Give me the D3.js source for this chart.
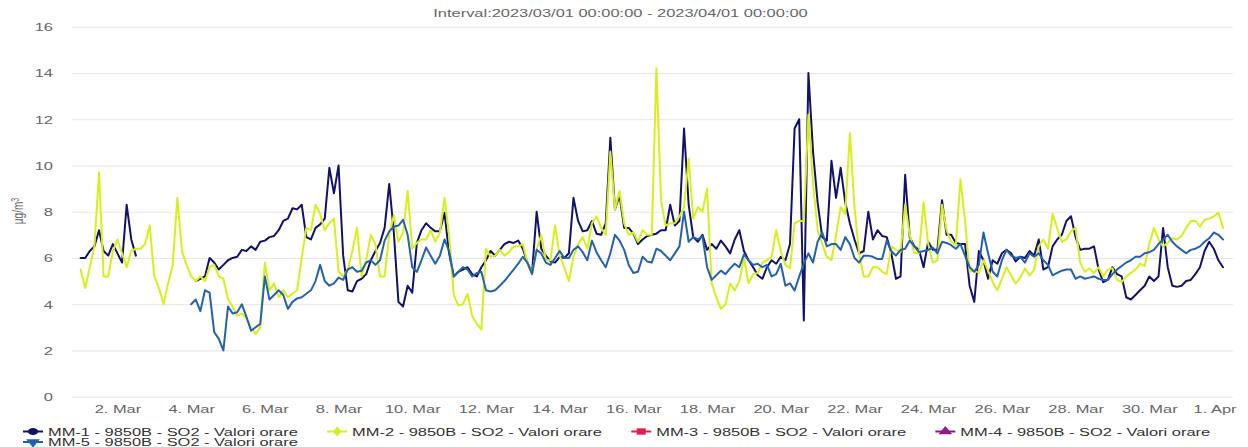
<!DOCTYPE html>
<html>
<head>
<meta charset="utf-8">
<title>MM - 9850B - SO2 - Valori orare</title>
<script src="https://cdn.jsdelivr.net/npm/d3@7"></script>
<style>
  body { margin: 0; background: #ffffff; }
  svg text { font-family: "Liberation Sans", Arial, Helvetica, sans-serif; }
</style>
</head>
<body>
<svg id="chart" width="1248" height="447"></svg>
<script>
var titleText = "Interval:2023/03/01 00:00:00 - 2023/04/01 00:00:00";
var yTitle = "\u00b5g/m";
var yTicks = [0, 2, 4, 6, 8, 10, 12, 14, 16];
var xTickDates = ["2023-03-02", "2023-03-04", "2023-03-06", "2023-03-08", "2023-03-10",
  "2023-03-12", "2023-03-14", "2023-03-16", "2023-03-18", "2023-03-20", "2023-03-22",
  "2023-03-24", "2023-03-26", "2023-03-28", "2023-03-30", "2023-04-01"];
var seriesNames = ["MM-1 - 9850B - SO2 - Valori orare", "MM-2 - 9850B - SO2 - Valori orare",
  "MM-3 - 9850B - SO2 - Valori orare", "MM-4 - 9850B - SO2 - Valori orare",
  "MM-5 - 9850B - SO2 - Valori orare"];
var startDay = "2023-03-01", endDay = "2023-04-01";
var stepHours = 3;

// one value every 3 hours from 1 Mar 00:00, one row per day
var mm1 = [
  6.0, 6.0, 6.3, 6.5, 7.2, 6.3, 6.1, 6.6,
  6.2, 5.8, 8.3, 6.8, 6.1, null, null, null,
  null, null, null, null, null, null, null, null,
  null, 5.0, 5.1, 5.2, 6.0, 5.8, 5.5, 5.7,
  5.9, 6.0, 6.05, 6.35, 6.3, 6.5, 6.35, 6.7,
  6.75, 6.9, 6.95, 7.2, 7.6, 7.7, 8.15, 8.1,
  8.3, 6.9, 6.8, 7.3, 7.45, 7.7, 9.9, 8.8,
  10.0, 6.1, 4.6, 4.55, 5.0, 5.1, 5.3, 5.9,
  6.3, 6.65, 7.3, 9.2, 7.1, 4.1, 3.9, 4.8,
  4.5, 6.65, 7.2, 7.5, 7.3, 7.15, 7.15, 7.95,
  6.2, 5.2, 5.4, 5.5, 5.6, 5.3, 5.2, 5.6,
  5.9, 6.3, 6.1, 6.35, 6.6, 6.7, 6.65, 6.75,
  6.4, 5.8, 5.35, 8.0, 6.4, 6.1, 5.85, 5.8,
  6.05, 6.0, 6.2, 8.6, 7.6, 7.15, 7.2, 7.6,
  7.05, 7.0, 7.5, 11.2, 8.1, 8.7, 7.3, 7.3,
  7.05, 6.6, 6.8, 6.95, 7.0, 7.05, 7.2, 7.2,
  8.3, 7.4, 7.6, 11.6, 8.3, 6.9, 6.7, 7.0,
  6.35, 6.6, 6.4, 6.75, 6.5, 6.2, 6.8, 7.2,
  6.3, 5.9, 5.6, 5.25, 5.1, 5.6, 5.9, 5.75,
  6.05, 5.9, 6.6, 11.6, 12.0, 3.3, 14.0, 10.6,
  8.4, 6.9, 6.75, 10.2, 8.6, 9.9, 8.4, 7.5,
  6.8, 6.2, 6.3, 8.0, 6.8, 7.2, 6.95, 6.9,
  6.2, 5.1, 5.2, 9.6, 6.9, 6.5, 6.35, 5.6,
  6.7, 6.35, 6.35, 8.5, 7.0, 7.0, 6.65, 6.6,
  6.6, 4.8, 4.1, 6.3, 5.9, 5.1, 5.9, 5.75,
  6.2, 6.35, 6.2, 5.85, 6.05, 6.0, 6.3, 6.1,
  6.8, 5.5, 5.6, 6.5, 6.8, 7.0, 7.6, 7.8,
  6.9, 6.35, 6.4, 6.4, 6.5, 5.5, 4.95, 5.05,
  5.6, 5.3, 5.2, 4.3, 4.2, 4.4, 4.6, 4.8,
  5.2, 5.0, 5.2, 7.3, 5.6, 4.8, 4.75, 4.8,
  5.0, 5.05, 5.3, 5.6, 6.3, 6.7, 6.4, 5.9,
  5.6
];
var mm2 = [
  5.5, 4.7, 5.6, 6.5, 9.7, 5.2, 5.2, 6.3,
  6.8, 6.2, 5.6, 6.3, 6.4, 6.4, 6.6, 7.4,
  5.2, 4.7, 4.0, 4.9, 5.7, 8.6, 6.3, 5.7,
  5.2, 5.0, 5.2, 5.0, 5.6, 5.7, 5.2, 5.1,
  4.2, 3.9, 3.5, 3.6, 3.4, 3.0, 2.7, 3.0,
  5.8, 4.6, 4.9, 4.3, 4.6, 4.3, 4.45, 4.6,
  6.0, 7.3, 7.2, 8.3, 7.9, 7.2, 7.5, 7.7,
  5.4, 5.2, 5.5, 6.3, 7.3, 5.2, 5.9, 7.0,
  6.6, 5.2, 5.2, 7.0, 7.85, 6.7, 7.1, 8.9,
  6.4, 6.65, 6.8, 6.8, 7.2, 6.7, 7.1, 8.6,
  7.0, 4.4, 3.95, 4.0, 4.45, 3.5, 3.15, 2.9,
  6.4, 6.05, 6.1, 6.35, 6.1, 6.25, 6.5, 6.5,
  6.6, 5.8, 5.35, 6.35, 7.0, 5.9, 5.9, 7.4,
  6.1, 5.6, 5.0, 6.05, 6.6, 6.9, 6.4, 7.5,
  7.8, 7.3, 7.0, 10.6, 8.1, 8.9, 7.5, 7.0,
  7.1, 6.7, 7.2, 7.0, 7.0, 14.2, 8.5, 7.4,
  7.5, 7.5, 7.8, 8.2, 10.3, 7.7, 8.2, 8.0,
  9.0, 4.9, 4.3, 3.8, 4.0, 4.9, 4.6, 5.0,
  6.0, 4.9, 5.3, 5.35, 5.8, 5.9, 6.05, 7.2,
  6.3, 5.7, 5.55, 7.5, 7.6, 7.6, 12.2, 9.2,
  7.2, 6.6, 6.05, 5.9, 7.0, 8.2, 7.9, 11.4,
  8.2, 6.2, 5.2, 5.2, 5.6, 5.6, 5.4, 5.3,
  6.5, 6.35, 6.25, 8.3, 7.0, 6.2, 6.2, 8.4,
  6.6, 5.8, 5.9, 8.3, 7.2, 6.7, 6.55, 9.4,
  7.6, 5.4, 5.45, 5.35, 5.9, 5.45, 4.95, 4.6,
  5.1, 5.6, 5.25, 4.9, 5.15, 5.55, 5.25, 5.5,
  6.5, 6.8, 6.4, 7.9, 7.3, 6.7, 6.8, 7.15,
  7.3, 5.8, 5.4, 5.55, 5.35, 5.6, 5.2, 5.5,
  5.55, 5.05, 4.95, 5.2, 5.35, 5.5, 5.75, 5.65,
  6.6, 7.3, 6.8, 6.5, 6.65, 6.85, 6.8, 6.95,
  7.3, 7.6, 7.6, 7.35, 7.65, 7.7, 7.8, 7.95,
  7.3
];
var mm3 = [];
var mm4 = [];
var mm5 = [
  null, null, null, null, null, null, null, null,
  null, null, null, null, null, null, null, null,
  null, null, null, null, null, null, null, null,
  4.0, 4.2, 3.7, 4.6, 4.5, 2.8, 2.5, 2.0,
  3.9, 3.6, 3.65, 4.0, 3.45, 2.85, 3.0, 3.15,
  5.2, 4.2, 4.4, 4.6, 4.4, 3.8, 4.1, 4.25,
  4.3, 4.45, 4.6, 5.0, 5.7, 5.0, 4.8, 4.9,
  5.15, 5.05, 5.5, 5.6, 5.4, 5.45, 5.8, 5.9,
  5.7, 5.9, 6.75, 7.15, 7.35, 7.4, 7.65, 7.0,
  5.6, 5.4, 5.9, 6.45, 6.1, 5.75, 6.1, 6.8,
  6.3, 5.2, 5.4, 5.6, 5.5, 5.2, 5.35, 5.4,
  4.6, 4.55, 4.6, 4.8, 5.0, 5.25, 5.5, 5.75,
  6.05, 5.8, 5.3, 6.35, 6.2, 5.8, 5.7, 6.0,
  6.3, 6.0, 6.0, 6.35, 6.5, 6.25, 5.9, 6.75,
  6.25, 5.9, 5.6, 6.2, 7.0, 6.75, 6.35, 5.7,
  5.35, 5.4, 6.05, 5.85, 5.8, 6.4, 6.3, 6.1,
  5.9, 6.2, 6.5, 8.0, 6.7, 6.9, 6.8, 6.95,
  5.6, 5.05, 5.25, 5.45, 5.3, 5.55, 5.75, 5.6,
  6.15, 5.9, 5.7, 5.75, 5.6, 5.7, 5.2, 5.3,
  5.75, 4.8, 4.9, 4.6, 5.2, 5.75, 6.2, 5.8,
  6.7, 7.1, 6.5, 6.6, 6.6, 6.35, 6.9, 6.6,
  6.0, 5.8, 6.1, 6.1, 6.05, 5.95, 5.95, 6.75,
  6.3, 6.1, 6.35, 6.4, 6.75, 6.5, 6.25, 6.3,
  6.35, 6.45, 6.2, 6.7, 6.65, 6.55, 6.4, 6.6,
  6.1, 5.6, 5.4, 5.7, 7.1, 6.2, 5.4, 5.2,
  5.9, 6.35, 6.1, 6.0, 6.05, 5.8, 6.2, 6.05,
  6.2, 5.9, 5.7, 5.25, 5.35, 5.45, 5.5, 5.5,
  5.1, 5.2, 5.1, 5.15, 5.2, 5.1, 5.05, 5.05,
  5.3, 5.5, 5.65, 5.8, 5.9, 6.05, 6.05, 6.2,
  6.25, 6.35, 6.6, 6.8, 7.0, 6.7, 6.5, 6.35,
  6.2, 6.35, 6.4, 6.5, 6.7, 6.85, 7.1, 7.0,
  6.8
];

var seriesData = [mm1, mm2, mm3, mm4, mm5];
var seriesColors = ["#12126c", "#d8f01a", "#e8194f", "#8c1c8c", "#2462ad"];
var seriesSymbols = [d3.symbolCircle, d3.symbolDiamond, d3.symbolSquare, d3.symbolTriangle, d3.symbolTriangle];

// the picture is stretched sideways, so text is too
var SX = 1.43;
var plotLeft = 72, plotRight = 1233, plotTop = 26.7, plotBottom = 396.7;
var fontSize = "11.5px";

var svg = d3.select("#chart");
var t0 = new Date(startDay + "T00:00:00Z");
var t1 = new Date(endDay + "T00:00:00Z");
var x = d3.scaleUtc().domain([t0, t1]).range([80.6, 1223]);
var y = d3.scaleLinear().domain([0, 16]).range([plotBottom, plotTop]);

// title
svg.append("text")
  .attr("transform", "translate(620.5,17) scale(" + SX + ",1)")
  .attr("text-anchor", "middle")
  .attr("fill", "#666666")
  .style("font-size", fontSize)
  .text(titleText);

// y grid and labels
var gy = svg.append("g")
  .attr("transform", "translate(" + plotLeft + ",0)")
  .call(d3.axisLeft(y).tickValues(yTicks).tickSize(-(plotRight - plotLeft)).tickPadding(0).tickFormat(d3.format("d")));
gy.attr("font-family", null).attr("font-size", null);
gy.select(".domain").remove();
gy.selectAll(".tick line").attr("stroke", "#e6e6e6");
gy.selectAll(".tick text")
  .attr("x", -19 / SX)
  .attr("dy", "0.35em")
  .attr("transform", "scale(" + SX + ",1)")
  .attr("fill", "#666666")
  .style("font-size", fontSize);

// y title
var yt = svg.append("text")
  .attr("transform", "translate(23,211) scale(" + SX + ",1) rotate(-90)")
  .attr("text-anchor", "middle")
  .attr("fill", "#666666")
  .style("font-size", "10px");
yt.append("tspan").text(yTitle);
yt.append("tspan").attr("dy", "-0.45em").style("font-size", "7px").text("3");

// x labels
var gx = svg.append("g")
  .attr("transform", "translate(0," + plotBottom + ")")
  .call(d3.axisBottom(x)
    .tickValues(xTickDates.map(function (d) { return new Date(d + "T00:00:00Z"); }))
    .tickSize(0).tickPadding(0).tickFormat(d3.utcFormat("%-d. %b")));
gx.attr("font-family", null).attr("font-size", null);
gx.select(".domain").remove();
gx.selectAll(".tick text")
  .attr("y", 16.3)
  .attr("dy", 0)
  .attr("transform", "scale(" + SX + ",1)")
  .attr("fill", "#666666")
  .style("font-size", fontSize)
  .each(function (d) {
    var w = this.getComputedTextLength() * SX;
    var over = x(d) + w / 2 - 1236;
    if (over > 0) d3.select(this).attr("x", -over / SX);
  });

// lines
var line = d3.line()
  .defined(function (d) { return d.v != null; })
  .x(function (d) { return x(d.t); })
  .y(function (d) { return y(d.v); });

seriesData.forEach(function (arr, k) {
  var pts = arr.map(function (v, i) {
    return { t: new Date(t0.getTime() + i * stepHours * 3600000), v: v };
  });
  if (!pts.length) return;
  svg.append("path")
    .datum(pts)
    .attr("fill", "none")
    .attr("stroke", seriesColors[k])
    .attr("stroke-width", 2)
    .attr("stroke-linejoin", "round")
    .attr("stroke-linecap", "round")
    .attr("d", line);
});

// legend
var legend = svg.append("g");
var lx = 23, row = 0;
seriesNames.forEach(function (name, k) {
  var item = legend.append("g");
  var txt = item.append("text")
    .attr("fill", "#333333")
    .style("font-size", fontSize)
    .text(name);
  var tw = txt.node().getComputedTextLength() * SX;
  if (lx + 25 + tw > 1240) { lx = 23; row += 1; }
  var cy = 431.5 + row * 10.5;
  txt.attr("transform", "translate(" + (lx + 25) + "," + (cy + 4) + ") scale(" + SX + ",1)");
  item.append("line")
    .attr("x1", lx).attr("x2", lx + 20)
    .attr("y1", cy).attr("y2", cy)
    .attr("stroke", seriesColors[k]).attr("stroke-width", 2);
  var rot = k === 4 ? " rotate(180)" : "";
  item.append("path")
    .attr("d", d3.symbol().type(seriesSymbols[k]).size(k === 1 ? 30 : 40)())
    .attr("transform", "translate(" + (lx + 10) + "," + cy + ") scale(" + SX + ",1)" + rot)
    .attr("fill", seriesColors[k]);
  lx += 25 + tw + 29;
});
</script>
</body>
</html>
